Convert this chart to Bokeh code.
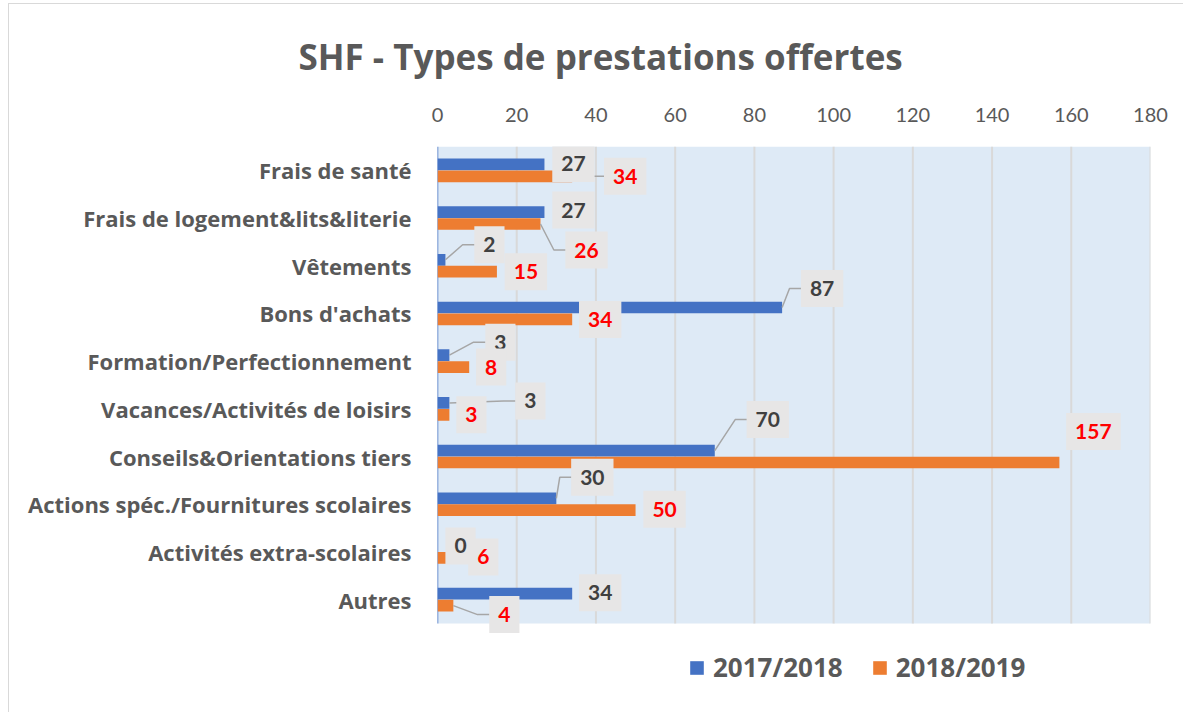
from bokeh.plotting import figure
from bokeh.models import Range1d, ColumnDataSource, Legend, LegendItem, Title, FixedTicker
from bokeh.embed import file_html
from bokeh.resources import INLINE
from bokeh.core.properties import value

# ---------------- data ----------------
categories = ["Frais de santé", "Frais de logement&lits&literie", "Vêtements", "Bons d'achats",
              "Formation/Perfectionnement", "Vacances/Activités de loisirs",
              "Conseils&Orientations tiers", "Actions spéc./Fournitures scolaires",
              "Activités extra-scolaires", "Autres"]
series_names = ["2017/2018", "2018/2019"]
values_2017 = [27, 27, 2, 87, 3, 3, 70, 30, 0, 34]
values_2018 = [34, 26, 15, 34, 8, 3, 157, 50, 6, 4]
x_ticks = [0, 20, 40, 60, 80, 100, 120, 140, 160, 180]
title_text = "SHF - Types de prestations offertes"

# ---------------- label placement (styling, px from bar end) ----------------
lbl_dx_2017 = [29, 29, 44, 40, 51, 81, 53, 36, 23, 28]
lbl_dy_2017 = [-1, -2, -15, -19, -13, -2, -31, -21, 0, -1]
leader_2017 = [0, 0, 1, 1, 1, 1, 1, 1, 0, 0]
lbl_dx_2018 = [53, 46, 29, 28, 22, 22, 34, 29, 22, 51]
lbl_dy_2018 = [0, 26, 0, 0, 0, 0, -31, -1, -1, 9]
leader_2018 = [1, 1, 0, 0, 0, 0, 0, 0, 0, 1]

# ---------------- geometry ----------------
W, H = 1175, 709
FL, FR, FT = 428, 34, 142
DATA_H = 477          # pixel height of the category area
FW = W - FL - FR
FH = H - FT           # frame runs to the bottom so the legend is inside it
XMAX = 180
n = len(categories)
px_x = FW / XMAX
px_y = DATA_H / n
y_bottom = FH / px_y

BLUE = "#4472C4"
ORANGE = "#ED7D31"
GREY_TXT = "#595959"
FONT = "Open Sans"
NUMFONT = "Lato"

p = figure(width=W, height=H, output_backend="svg", toolbar_location=None,
           x_range=Range1d(0, XMAX), y_range=Range1d(y_bottom, 0),
           x_axis_location="above",
           min_border_left=FL, min_border_right=FR, min_border_top=FT, min_border_bottom=0)
p.styles = {"margin-left": "8px", "margin-top": "3px",
            "border-top": "1px solid #D9D9D9", "border-left": "1px solid #D9D9D9"}
p.background_fill_color = "white"
p.border_fill_color = "white"
p.outline_line_color = None

# plot area background, grid and axis line
p.quad(left=0, right=XMAX, top=0, bottom=n, color="#DEEAF6", line_color=None)
p.segment(x0=x_ticks[1:], y0=0, x1=x_ticks[1:], y1=n, line_color="#D9D9D9", line_width=2)
p.segment(x0=0, y0=0, x1=0, y1=n, line_color=BLUE, line_width=1.5)

rows = [i + 0.5 for i in range(n)]
off = 0.125
bh = 0.245
y17 = [r - off for r in rows]
y18 = [r + off for r in rows]

src17 = ColumnDataSource(dict(y=y17, v=values_2017, t=[str(v) for v in values_2017],
                              dx=lbl_dx_2017, dy=lbl_dy_2017))
src18 = ColumnDataSource(dict(y=y18, v=values_2018, t=[str(v) for v in values_2018],
                              dx=lbl_dx_2018, dy=lbl_dy_2018))

r17 = p.hbar(y="y", left=0, right="v", height=bh, source=src17, color=BLUE, line_color=None)
r18 = p.hbar(y="y", left=0, right="v", height=bh, source=src18, color=ORANGE, line_color=None)

# leader lines
def leaders(vals, ys, dxs, dys, flags):
    xs_all, ys_all = [], []
    for v, y, dx, dy, f in zip(vals, ys, dxs, dys, flags):
        if not f:
            continue
        half = 9 + 5.8 * len(str(v))
        ex = v + (dx - half) / px_x
        kx = v + (dx - half - 12) / px_x
        ly = y + dy / px_y
        xs_all.append([v, kx, ex])
        ys_all.append([y, ly, ly])
    return xs_all, ys_all

lx1, ly1 = leaders(values_2017, y17, lbl_dx_2017, lbl_dy_2017, leader_2017)
lx2, ly2 = leaders(values_2018, y18, lbl_dx_2018, lbl_dy_2018, leader_2018)
p.multi_line(xs=lx1 + lx2, ys=ly1 + ly2, line_color="#A6A6A6", line_width=1.5)

for src, col in ((src17, "#404040"), (src18, "#FF0000")):
    p.text(x="v", y="y", text="t", x_offset="dx", y_offset="dy", source=src,
           text_align="center", text_baseline="middle",
           text_font=value(NUMFONT), text_font_size="21px", text_font_style="bold",
           text_color=col, background_fill_color="#E7E6E6",
           padding=dict(left=9, right=9, top=11, bottom=11))

# axes
p.xaxis.ticker = FixedTicker(ticks=x_ticks)
p.xaxis.axis_line_color = None
p.xaxis.major_tick_line_color = None
p.xaxis.minor_tick_line_color = None
p.xaxis.major_label_text_font = NUMFONT
p.xaxis.major_label_text_font_size = "20px"
p.xaxis.major_label_text_color = GREY_TXT
p.xaxis.major_label_standoff = 19

p.yaxis.ticker = FixedTicker(ticks=rows)
p.yaxis.major_label_overrides = {r: c for r, c in zip(rows, categories)}
p.yaxis.axis_line_color = None
p.yaxis.major_tick_line_color = None
p.yaxis.minor_tick_line_color = None
p.yaxis.major_label_text_font = FONT
p.yaxis.major_label_text_font_size = "22px"
p.yaxis.major_label_text_font_style = "bold"
p.yaxis.major_label_text_color = GREY_TXT
p.yaxis.major_label_standoff = 20

p.xgrid.grid_line_color = None
p.ygrid.grid_line_color = None

# title
title = Title(text=title_text, align="left", offset=298 - 437,
              text_font=FONT, text_font_size="35px", text_font_style="bold",
              text_color=GREY_TXT, standoff=50)
p.add_layout(title, "above")

legend = Legend(items=[LegendItem(label=series_names[0], renderers=[r17]),
                       LegendItem(label=series_names[1], renderers=[r18])],
                orientation="horizontal", location=(251, 28),
                glyph_width=17, glyph_height=17, spacing=28, padding=0, margin=0,
                label_text_font=FONT, label_text_font_size="26px", label_text_font_style="bold",
                label_text_color=GREY_TXT, label_standoff=8,
                background_fill_alpha=0, border_line_color=None)
p.add_layout(legend)

open("out.html", "w").write(file_html(p, INLINE))
